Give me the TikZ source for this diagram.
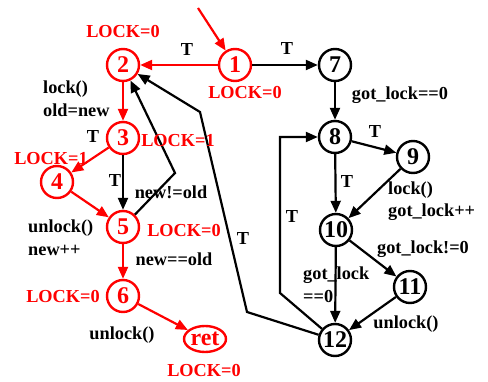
\documentclass[tikz,border=0pt]{standalone}
\usepackage{fontspec}
\setmainfont{Liberation Serif}
\usetikzlibrary{arrows.meta,shapes.geometric}
\begin{document}
\begin{tikzpicture}[x=1pt,y=-1pt,
  st/.style={circle,draw,line width=2.4pt,minimum size=32pt,inner sep=0pt,font=\fontsize{24}{24}\selectfont\bfseries},
  rst/.style={st,draw=red,text=red},
  lbl/.style={font=\fontsize{18.3}{20}\selectfont\bfseries,inner sep=0pt},
  rlbl/.style={lbl,text=red},
  edge/.style={line width=2.2pt,-{Triangle[length=12pt,width=10pt]}},
  redge/.style={edge,draw=red}]
\useasboundingbox (0,0) rectangle (488,382);
% nodes
\node[rst] (n1) at (235,65) {1};
\node[rst] (n2) at (123,65) {2};
\node[rst] (n3) at (123,138) {3};
\node[rst] (n4) at (57,182) {4};
\node[rst] (n5) at (123,227) {5};
\node[rst] (n6) at (123,296) {6};
\node[rst,ellipse,minimum width=42pt,minimum height=26pt] (ret) at (205,339) {ret};
\node[st] (n7) at (335,65) {7};
\node[st] (n8) at (335,137) {8};
\node[st] (n9) at (413,157) {9};
\node[st] (n10) at (336,230) {10};
\node[st] (n11) at (410,287) {11};
\node[st] (n12) at (335,340) {12};
\coordinate (start) at (198,8);
% red edges
\draw[redge] (start) -- (n1);
\draw[redge] (n1) -- (n2);
\draw[redge] (n2) -- (n3);
\draw[redge] (n3) -- (n4);
\draw[redge] (n4) -- (n5);
\draw[redge] (n5) -- (n6);
\draw[redge] (n6) -- (ret);
% black edges
\draw[edge] (n1) -- (n7);
\draw[edge] (n3) -- (n5);
\draw[edge] (n5) -- (175,173) -- (n2);
\draw[edge] (n12) -- (247,312) -- (200,112) -- (n2);
\draw[edge] (n7) -- (n8);
\draw[edge] (n8) -- (n9);
\draw[edge] (n8) -- (n10);
\draw[edge] (n9) -- (n10);
\draw[edge] (n10) -- (n11);
\draw[edge] (n10) -- (n12);
\draw[edge] (n11) -- (n12);
\draw[edge] (n12) -- (280,293) -- (280,137) -- (n8);
% red labels
\node[rlbl] (l1) at (123,32) {LOCK=0};
\node[rlbl] (l2) at (245,93) {LOCK=0};
\node[rlbl] (l3) at (178,141) {LOCK=1};
\node[rlbl] (l4) at (51,159) {LOCK=1};
\node[rlbl] (l5) at (184,231) {LOCK=0};
\node[rlbl] (l6) at (63,297) {LOCK=0};
\node[rlbl] (l7) at (204,371) {LOCK=0};
% black labels
\node[lbl] (t1) at (187,50) {T};
\node[lbl] (t2) at (287,49) {T};
\node[lbl,anchor=west] (a1) at (43,89) {lock()};
\node[lbl,anchor=west] (a2) at (43,110) {old=new};
\node[lbl] (t3) at (93,137) {T};
\node[lbl] (t4) at (115,181) {T};
\node[lbl] (a3) at (171,192) {new!=old};
\node[lbl,anchor=west] (a4) at (28,228) {unlock()};
\node[lbl,anchor=west] (a5) at (28,250) {new++};
\node[lbl] (a6) at (174,259) {new==old};
\node[lbl] (a7) at (122,335) {unlock()};
\node[lbl] (t5) at (243,239) {T};
\node[lbl] (a8) at (400,95) {got\_lock==0};
\node[lbl] (t6) at (375,132) {T};
\node[lbl] (t7) at (347,182) {T};
\node[lbl] (t8) at (292,217) {T};
\node[lbl,anchor=west] (a9) at (388,190) {lock()};
\node[lbl,anchor=west] (a10) at (388,212) {got\_lock++};
\node[lbl] (a11) at (423,249) {got\_lock!=0};
\node[lbl,anchor=west] (a12) at (303,275) {got\_lock};
\node[lbl,anchor=west] (a13) at (303,297) {==0};
\node[lbl] (a14) at (406,324) {unlock()};
\end{tikzpicture}
\end{document}
